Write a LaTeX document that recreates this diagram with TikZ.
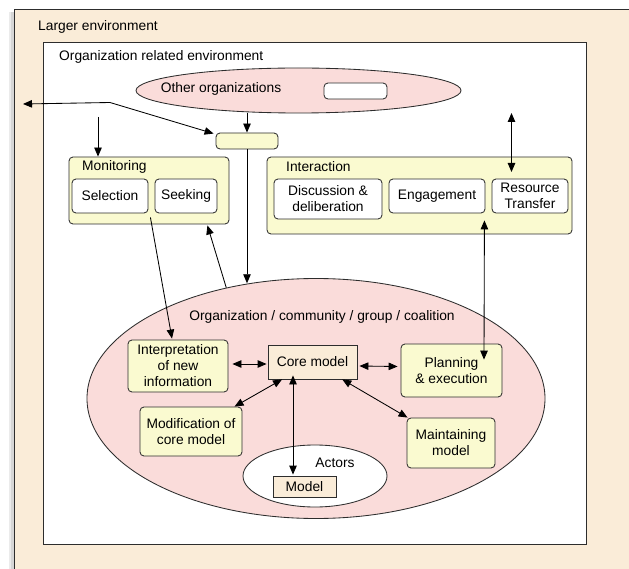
\documentclass[tikz,border=0pt]{standalone}
\usepackage{fontspec}
\setmainfont{Liberation Sans}
\usetikzlibrary{shapes.geometric,calc,arrows.meta}
\definecolor{envbg}{RGB}{250,236,216}
\definecolor{pinkfill}{RGB}{250,220,218}
\definecolor{yfill}{RGB}{250,250,208}
\definecolor{edgec}{RGB}{45,45,45}
\begin{document}
\begin{tikzpicture}[x=1pt,y=-1pt,
  font=\fontsize{13.8}{16}\selectfont,
  >={Triangle[length=9pt,width=7.5pt]},
  box/.style={draw=edgec, line width=0.85pt, rounded corners=4pt, align=center, inner sep=0pt},
  ybox/.style={box, fill=yfill},
  wbox/.style={box, fill=white},
  sqbox/.style={draw=edgec, line width=0.85pt, fill=envbg, align=center, inner sep=0pt},
  oval/.style={ellipse, draw=edgec, line width=0.85pt, inner sep=0pt},
  lbl/.style={inner sep=0pt},
  conn/.style={line width=0.85pt, black}]
\useasboundingbox (0,0) rectangle (629,569);
\clip (0,0) rectangle (629,569);
% shadow of the outer frame
\fill[black!8] (9,12) rectangle (14,580);
\fill[black!16] (11,12) rectangle (14,580);
\node (larger) [draw=edgec, line width=0.85pt, fill=envbg, minimum width=626pt, minimum height=571pt, inner sep=0pt] at (327,294.5) {};
\node (orgenv) [draw=edgec, line width=0.85pt, fill=white, minimum width=543.5pt, minimum height=501.5pt, inner sep=0pt] at (314.75,293.25) {};
\node (largerlbl) [lbl, anchor=west] at (38,26.5) {Larger environment};
\node (orgenvlbl) [lbl, anchor=west] at (59,57) {Organization related environment};

% other organizations
\node (other) [oval, fill=pinkfill, minimum width=325pt, minimum height=45pt] at (298.5,90.5) {};
\node (otherlbl) [lbl] at (221,89) {Other organizations};
\node (otherbox) [wbox, minimum width=63pt, minimum height=16pt] at (355.5,91) {};

% hub box
\node (hub) [ybox, minimum width=62pt, minimum height=16pt] at (247,141) {};

% monitoring
\node (monitoring) [ybox, minimum width=160pt, minimum height=67pt] at (149,190.5) {};
\node (monlbl) [lbl, anchor=west] at (82,167) {Monitoring};
\node (selection) [wbox, minimum width=76pt, minimum height=34pt] at (110,196) {Selection};
\node (seeking) [wbox, minimum width=62pt, minimum height=34pt] at (186,196) {Seeking};

% interaction
\node (interaction) [ybox, minimum width=305pt, minimum height=77pt] at (419.5,195.5) {};
\node (intlbl) [lbl, anchor=west] at (286,167) {Interaction};
\node (discussion) [wbox, minimum width=108pt, minimum height=40pt] at (328,199) {Discussion \&\\deliberation};
\node (engagement) [wbox, minimum width=96pt, minimum height=34pt] at (437,196) {Engagement};
\node (resource) [wbox, minimum width=76pt, minimum height=34pt] at (530,196) {Resource\\Transfer};

% organization ellipse
\node (org) [oval, fill=pinkfill, minimum width=458pt, minimum height=240pt] at (316,398.5) {};
\node (orglbl) [lbl] at (322,317) {Organization / community / group / coalition};

\node (interp) [ybox, minimum width=100pt, minimum height=52pt] at (178,366) {Interpretation\\of new\\information};
\node (core) [sqbox, minimum width=89pt, minimum height=34pt] at (312.5,362) {Core model};
\node (planning) [ybox, minimum width=101pt, minimum height=53pt] at (451.5,370.5) {Planning\\\& execution};
\node (modification) [ybox, minimum width=102pt, minimum height=49pt] at (191,431.5) {Modification of\\core model};
\node (maintaining) [ybox, minimum width=88pt, minimum height=50pt] at (451,443) {Maintaining\\model};
\node (actors) [oval, fill=white, minimum width=144pt, minimum height=62pt] at (315,476) {};
\node (actorslbl) [lbl] at (335,463) {Actors};
\node (model) [sqbox, minimum width=63pt, minimum height=21pt] at (304.5,486.5) {Model};

% free ends
\coordinate (leftend) at (23,104);
\coordinate (bend) at (110,102.5);
\coordinate (montop) at (98,117);
\coordinate (restop) at (511.5,113);
\coordinate (resbot) at (511.5,172);

% connectors
\draw[conn,<->] (leftend) -- (bend) -- ($(hub.north west)+(-2,1)$);
\draw[conn,->] (other.south -| hub.north) -- (hub.north);
\draw[conn,->] (montop) -- (montop |- monitoring.north);
\draw[conn,<->] (restop) -- (resbot);
\draw[conn,->] (hub.south) -- (hub.south |- org.120);
\draw[conn,->] ($(selection.south east)+(2,4)$) -- ($(interp.north)+(-6,-1)$);
\draw[conn,->] (org.129) -- ($(monitoring.south east)+(-22,1)$);
\draw[conn,<->] ($(engagement.south east)+(-1,7)$) -- ($(planning.north)+(32.5,16)$);
\draw[conn,<->] ($(interp.east)+(4,-2)$) -- ($(core.west)+(-1,2)$);
\draw[conn,<->] ($(core.east)+(2,4)$) -- ($(planning.west)+(-3,-4)$);
\draw[conn,<->] (core) -- (modification);
\draw[conn,<->] (core) -- (maintaining);
\draw[conn,<->] ($(core.south)+(-19.5,-4)$) -- ($(model.north)+(-11.5,-1)$);
\end{tikzpicture}
\end{document}
